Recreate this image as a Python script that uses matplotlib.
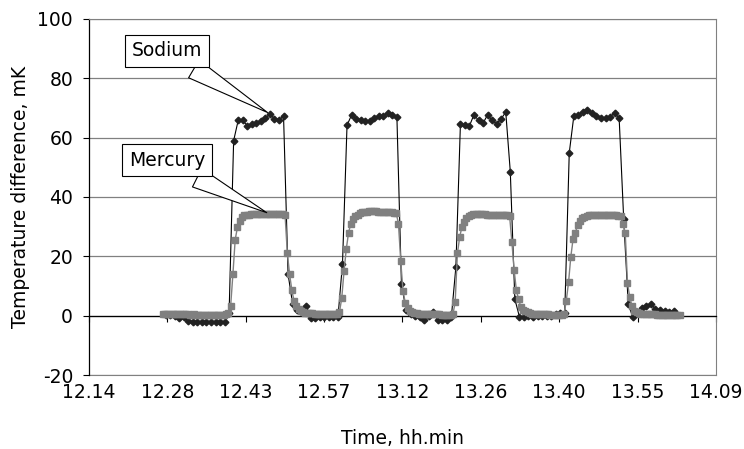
import matplotlib.pyplot as plt
import numpy as np

# temperature difference, mK
sodium = [
    0.3, 0.2, 0.0, -0.8, -0.5, -1.8, -2.0, -2.2, -2.3, -2.3,
    -2.3, -2.3, -2.3, -2.2, 1.0, 59.0, 65.8, 65.8, 64.0, 64.7,
    64.9, 65.5, 66.6, 68.0, 66.3, 65.8, 67.4, 14.0, 4.0, 2.0,
    1.5, 3.3, -0.8, -0.7, -0.5, -0.6, -0.5, -0.5, -0.5, 17.5,
    64.2, 67.6, 66.3, 65.8, 65.7, 65.5, 66.6, 67.2, 67.4, 68.3,
    67.7, 66.8, 10.7, 2.0, 0.5, 0.0, -0.5, -1.4, 0.0, 1.4,
    -1.6, -1.5, -1.4, -0.5, 16.4, 64.5, 64.4, 64.0, 67.8, 65.8,
    64.9, 67.7, 65.8, 64.7, 66.4, 68.6, 48.5, 5.6, -0.3, -0.3,
    -0.2, -0.3, -0.2, 0.0, -0.2, 0.0, 0.5, 0.8, 0.8, 54.9,
    67.2, 67.7, 68.8, 69.4, 68.3, 67.4, 66.6, 66.6, 67.0, 68.3,
    66.6, 32.7, 4.0, -0.5, 1.0, 2.5, 3.4, 4.1, 2.1, 2.0,
    1.7, 1.4, 1.6,
]

mercury = [
    0.4, 0.5, 0.5, 0.6, 0.6, 0.5, 0.5, 0.4, 0.4, 0.5,
    0.5, 0.4, 0.3, 0.3, 0.4, 0.3, 0.3, 0.2, 0.2, 0.3,
    0.2, 0.2, 0.2, 0.3, 0.2, 0.2, 0.3, 0.3, 0.4,
    0.8, 3.3, 14.0, 25.6, 29.8, 32.0, 33.2, 33.8, 34.0, 34.1,
    34.2, 34.2, 34.3, 34.3, 34.3, 34.3, 34.3, 34.3, 34.3, 34.3,
    34.3, 34.3, 34.2, 34.2, 34.2,
    33.9, 21.0, 14.0, 8.5, 4.8, 3.3, 2.2, 1.6, 1.1, 0.9,
    0.8, 0.8, 0.8, 0.7, 0.7, 0.7, 0.7, 0.6, 0.6, 0.6, 0.6, 0.6, 0.6, 0.7,
    1.2, 6.0, 15.0, 22.5, 28.0, 31.0, 32.5, 33.5, 34.1, 34.6, 34.8, 35.0, 35.1,
    35.2, 35.2, 35.2, 35.2, 35.1, 35.1, 35.1, 35.0, 35.0, 34.9, 34.8, 34.7, 34.6,
    31.0, 18.5, 8.3, 4.4, 2.7, 1.5, 1.3, 1.0, 0.8, 0.6,
    0.5, 0.5, 0.5, 0.5, 0.4, 0.4, 0.4, 0.4, 0.4, 0.3, 0.3, 0.3, 0.3, 0.3, 0.4,
    4.5, 21.0, 26.5, 30.0, 31.5, 33.0, 33.5, 34.0, 34.2,
    34.2, 34.2, 34.2, 34.2, 34.2, 34.1, 34.1, 34.1, 34.0, 34.0,
    34.0, 33.9, 33.9, 33.8, 33.8, 33.7,
    25.0, 15.5, 8.5, 5.5, 2.8, 2.0, 1.5, 1.2, 0.8, 0.7,
    0.5, 0.5, 0.5, 0.4, 0.4, 0.4, 0.4, 0.3, 0.3, 0.3, 0.3, 0.3, 0.3, 0.4,
    5.0, 11.2, 19.8, 25.9, 28.0, 30.5, 31.9, 33.0, 33.4, 33.7, 33.9,
    34.0, 34.0, 34.0, 34.0, 34.0, 34.0, 34.0, 33.9, 33.9, 33.9, 33.8, 33.8, 33.7, 33.6,
    31.0, 28.0, 11.0, 6.2, 3.3, 1.6, 1.2, 0.8, 0.5,
    0.5, 0.5, 0.4, 0.4, 0.4, 0.4, 0.3, 0.3, 0.3, 0.3, 0.3, 0.3, 0.3, 0.3, 0.3, 0.3, 0.3,
]

# logger start (minutes after 12:00) and sampling interval (minutes)
sodium_start, sodium_step = 28.48, 50 / 60
mercury_start, mercury_step = 27.93, 25 / 60

x_ticks = [14.4, 28.8, 43.2, 57.6, 72.0, 86.4, 100.8, 115.2, 129.6]
x_labels = ["12.14", "12.28", "12.43", "12.57", "13.12", "13.26", "13.40", "13.55", "14.09"]
y_ticks = [-20, 0, 20, 40, 60, 80, 100]

t_na = sodium_start + sodium_step * np.arange(len(sodium))
t_hg = mercury_start + mercury_step * np.arange(len(mercury))

plt.rcParams['font.family'] = 'DejaVu Sans'
plt.rcParams['font.size'] = 13.5
plt.rcParams['axes.unicode_minus'] = False

fig = plt.figure(figsize=(7.44, 4.49), dpi=100)
ax = fig.add_axes([0.1196, 0.1648, 0.8427, 0.7929])

ax.plot(t_na, sodium, color='black', lw=0.8, marker='D', ms=3.4,
        mfc='#222222', mec='#222222', zorder=3)
ax.plot(t_hg, mercury, color='#808080', lw=1.0, marker='s', ms=4.0,
        mfc='#808080', mec='#808080', zorder=4)

ax.set_xlim(x_ticks[0], x_ticks[-1])
ax.set_ylim(-20, 100)
ax.set_yticks(y_ticks)
ax.yaxis.grid(True, color='#808080', lw=0.9)
ax.set_axisbelow(True)

# x axis crosses at zero, labels stay at the bottom
ax.spines['bottom'].set_position(('data', 0))
ax.spines['bottom'].set_color('black')
ax.spines['bottom'].set_linewidth(0.9)
ax.spines['left'].set_color('black')
ax.spines['left'].set_linewidth(0.9)
ax.spines['top'].set_color('#808080')
ax.spines['right'].set_color('#808080')
ax.set_xticks(x_ticks)
ax.tick_params(axis='x', direction='out', length=4.5, width=0.8, labelbottom=False)
ax.tick_params(axis='y', direction='out', length=4.5, width=0.8, pad=7)

sec = ax.secondary_xaxis('bottom')
sec.set_xticks(x_ticks, labels=x_labels)
sec.tick_params(length=0, pad=5.5)
sec.spines['bottom'].set_color('#808080')
sec.set_xlabel('Time, hh.min', labelpad=20)

ax.set_ylabel('Temperature difference, mK', labelpad=5)

box = dict(boxstyle='square,pad=0.35', fc='white', ec='black', lw=0.8)
ax.annotate('Sodium', xy=(t_na[23], sodium[23]), xytext=(167, 398),
            textcoords='figure pixels', ha='center', va='center', bbox=box, zorder=6,
            arrowprops=dict(arrowstyle='wedge,tail_width=1.1', fc='white', ec='black',
                            lw=0.8, relpos=(0.68, 0.0)))
ax.annotate('Mercury', xy=(t_hg[47], mercury[47]), xytext=(167, 289),
            textcoords='figure pixels', ha='center', va='center', bbox=box, zorder=6,
            arrowprops=dict(arrowstyle='wedge,tail_width=1.1', fc='white', ec='black',
                            lw=0.8, relpos=(0.68, 0.0)))

plt.savefig('out.png')
